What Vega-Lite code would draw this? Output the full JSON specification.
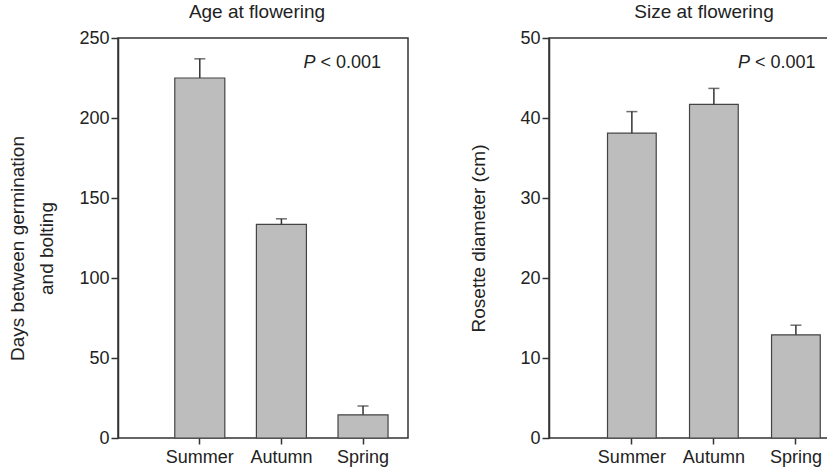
{
  "$schema": "https://vega.github.io/schema/vega-lite/v6.json",
  "padding": {"left": 8, "top": 2, "right": 0, "bottom": 0},
  "background": "white",
  "spacing": 60,
  "config": {
    "font": "Liberation Sans",
    "view": {"stroke": "#333333", "strokeWidth": 1.5},
    "axis": {
      "domainColor": "#333333", "domainWidth": 1.5,
      "tickColor": "#333333", "tickWidth": 1.5, "tickSize": 7,
      "labelColor": "#222222", "titleColor": "#222222",
      "labelFont": "Liberation Sans", "titleFont": "Liberation Sans",
      "grid": false
    },
    "title": {"font": "Liberation Sans", "fontSize": 19, "fontWeight": "normal", "color": "#222222", "offset": 7}
  },
  "datasets": {
    "age": [
      {"season": "Summer", "mean": 225, "upper": 237},
      {"season": "Autumn", "mean": 133.5, "upper": 137},
      {"season": "Spring", "mean": 14.5, "upper": 20}
    ],
    "size": [
      {"season": "Summer", "mean": 38.1, "upper": 40.8},
      {"season": "Autumn", "mean": 41.7, "upper": 43.7},
      {"season": "Spring", "mean": 12.9, "upper": 14.1}
    ]
  },
  "hconcat": [
    {
      "width": 290, "height": 400,
      "title": {"text": "Age at flowering", "dx": -6},
      "data": {"name": "age"},
      "encoding": {
        "x": {"field": "season", "type": "nominal", "sort": ["Summer", "Autumn", "Spring"],
          "scale": {"paddingInner": 0.387, "paddingOuter": 0.47, "align": 0.74},
          "axis": {"title": null, "labelAngle": 0, "labelFontSize": 18, "labelPadding": 4, "tickSize": 6, "domain": false}}
      },
      "layer": [
        {
          "mark": {"type": "bar", "fill": "#bdbdbd", "stroke": "#444444", "strokeWidth": 1.2},
          "encoding": {
            "y": {"field": "mean", "type": "quantitative",
              "scale": {"domain": [0, 250], "nice": false},
              "axis": {"values": [0, 50, 100, 150, 200, 250], "labelFontSize": 18, "labelPadding": 2,
                "title": ["Days between germination", "and bolting"], "titleFontSize": 19, "titleFontWeight": "normal",
                "titleLineHeight": 29, "titlePadding": 22, "titleY": 210}}
          }
        },
        {
          "mark": {"type": "rule", "color": "#333333", "strokeWidth": 1.5},
          "encoding": {"y": {"field": "mean", "type": "quantitative"}, "y2": {"field": "upper"}}
        },
        {
          "mark": {"type": "tick", "color": "#333333", "thickness": 1.5, "size": 11, "orient": "horizontal"},
          "encoding": {"y": {"field": "upper", "type": "quantitative"}}
        },
        {
          "data": {"values": [{"t": "P"}]},
          "mark": {"type": "text", "text": "P", "fontStyle": "italic", "fontSize": 18, "align": "right", "baseline": "middle", "dx": -47.6, "color": "#222222"},
          "encoding": {"x": {"datum": "Spring", "type": "nominal"}, "y": {"datum": 234.4, "type": "quantitative"}}
        },
        {
          "data": {"values": [{"t": "< 0.001"}]},
          "mark": {"type": "text", "text": "< 0.001", "fontSize": 18, "align": "right", "baseline": "middle", "dx": 18, "color": "#222222"},
          "encoding": {"x": {"datum": "Spring", "type": "nominal"}, "y": {"datum": 234.4, "type": "quantitative"}}
        }
      ]
    },
    {
      "width": 280, "height": 400,
      "title": {"text": "Size at flowering", "dx": 15},
      "data": {"name": "size"},
      "encoding": {
        "x": {"field": "season", "type": "nominal", "sort": ["Summer", "Autumn", "Spring"],
          "scale": {"paddingInner": 0.406, "paddingOuter": 0.41, "align": 0.87},
          "axis": {"title": null, "labelAngle": 0, "labelFontSize": 18, "labelPadding": 4, "tickSize": 6, "domain": false}}
      },
      "layer": [
        {
          "mark": {"type": "bar", "fill": "#bdbdbd", "stroke": "#444444", "strokeWidth": 1.2},
          "encoding": {
            "y": {"field": "mean", "type": "quantitative",
              "scale": {"domain": [0, 50], "nice": false},
              "axis": {"values": [0, 10, 20, 30, 40, 50], "labelFontSize": 18, "labelPadding": 2,
                "title": "Rosette diameter (cm)", "titleFontSize": 19, "titleFontWeight": "normal", "titlePadding": 31}}
          }
        },
        {
          "mark": {"type": "rule", "color": "#333333", "strokeWidth": 1.5},
          "encoding": {"y": {"field": "mean", "type": "quantitative"}, "y2": {"field": "upper"}}
        },
        {
          "mark": {"type": "tick", "color": "#333333", "thickness": 1.5, "size": 11, "orient": "horizontal"},
          "encoding": {"y": {"field": "upper", "type": "quantitative"}}
        },
        {
          "data": {"values": [{"t": "P"}]},
          "mark": {"type": "text", "text": "P", "fontStyle": "italic", "fontSize": 18, "align": "right", "baseline": "middle", "dx": -46, "color": "#222222"},
          "encoding": {"x": {"datum": "Spring", "type": "nominal"}, "y": {"datum": 46.9, "type": "quantitative"}}
        },
        {
          "data": {"values": [{"t": "< 0.001"}]},
          "mark": {"type": "text", "text": "< 0.001", "fontSize": 18, "align": "right", "baseline": "middle", "dx": 19.7, "color": "#222222"},
          "encoding": {"x": {"datum": "Spring", "type": "nominal"}, "y": {"datum": 46.9, "type": "quantitative"}}
        }
      ]
    }
  ]
}
